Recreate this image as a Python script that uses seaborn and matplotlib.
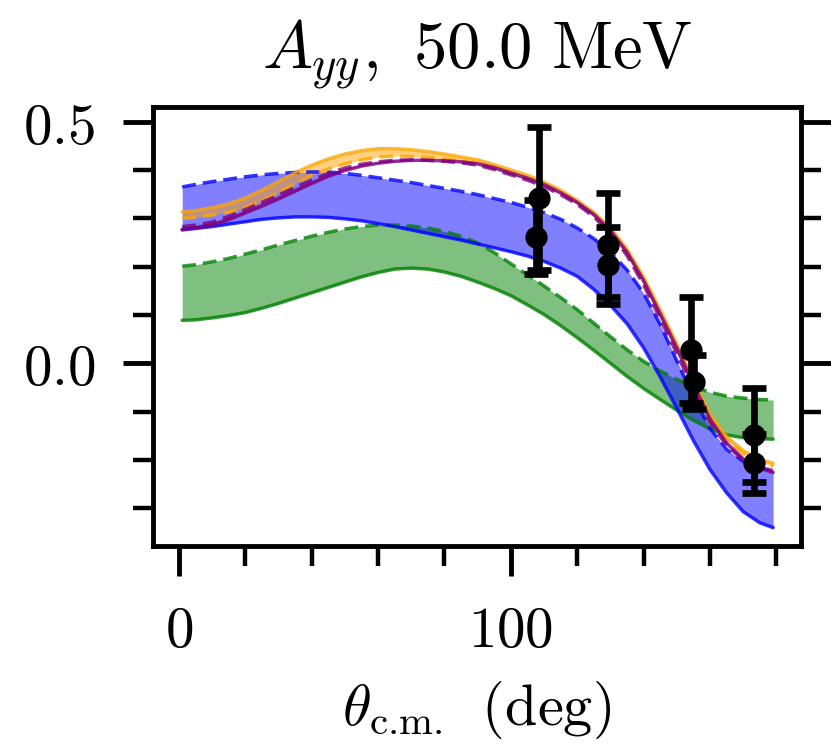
import matplotlib
matplotlib.use("Agg")
import matplotlib.pyplot as plt
import seaborn as sns
from matplotlib.ticker import MultipleLocator, FuncFormatter

# Scattering angle grid (deg) on which the model curves are tabulated
theta = [1, 5, 10, 15, 20, 25, 30, 35, 40, 45, 50, 55, 60, 65, 70, 75, 80,
         85, 90, 95, 100, 105, 110, 115, 120, 125, 130, 135, 140, 145, 150,
         155, 160, 165, 170, 175, 179]

# Green band: solid lower edge, dashed upper edge
green_solid = [0.089, 0.090, 0.094, 0.099, 0.105, 0.114, 0.124, 0.135, 0.146,
               0.157, 0.168, 0.179, 0.188, 0.195, 0.197, 0.195, 0.189, 0.180,
               0.168, 0.155, 0.140, 0.121, 0.101, 0.078, 0.053, 0.027, 0.000,
               -0.027, -0.052, -0.075, -0.097, -0.118, -0.136, -0.148, -0.154,
               -0.156, -0.157]
green_dashed = [0.201, 0.204, 0.210, 0.217, 0.226, 0.235, 0.245, 0.254, 0.263,
                0.271, 0.278, 0.283, 0.286, 0.286, 0.284, 0.280, 0.273, 0.263,
                0.249, 0.229, 0.206, 0.183, 0.160, 0.136, 0.111, 0.083, 0.055,
                0.028, 0.004, -0.016, -0.033, -0.048, -0.060, -0.068, -0.072,
                -0.075, -0.076]

# Blue band
blue_solid = [0.276, 0.279, 0.283, 0.288, 0.293, 0.298, 0.301, 0.303, 0.303,
              0.302, 0.299, 0.295, 0.289, 0.283, 0.276, 0.269, 0.262, 0.255,
              0.247, 0.239, 0.231, 0.222, 0.211, 0.197, 0.180, 0.153, 0.120,
              0.082, 0.032, -0.028, -0.093, -0.160, -0.220, -0.268, -0.307,
              -0.330, -0.340]
blue_dashed = [0.365, 0.370, 0.376, 0.381, 0.386, 0.390, 0.393, 0.395, 0.396,
               0.396, 0.393, 0.389, 0.384, 0.379, 0.374, 0.368, 0.362, 0.356,
               0.349, 0.341, 0.333, 0.323, 0.312, 0.298, 0.280, 0.258, 0.230,
               0.193, 0.145, 0.080, 0.005, -0.070, -0.135, -0.178, -0.203,
               -0.216, -0.222]

# Orange band
orange_solid = [0.313, 0.316, 0.322, 0.330, 0.342, 0.358, 0.376, 0.394, 0.410,
                0.423, 0.433, 0.440, 0.444, 0.444, 0.442, 0.438, 0.433, 0.427,
                0.421, 0.411, 0.400, 0.389, 0.375, 0.358, 0.337, 0.312, 0.280,
                0.236, 0.178, 0.110, 0.040, -0.035, -0.105, -0.152, -0.181,
                -0.199, -0.207]
orange_dashed = [0.300, 0.302, 0.307, 0.313, 0.322, 0.336, 0.353, 0.372, 0.389,
                 0.402, 0.413, 0.421, 0.427, 0.429, 0.428, 0.426, 0.423, 0.418,
                 0.413, 0.405, 0.395, 0.384, 0.371, 0.354, 0.332, 0.306, 0.273,
                 0.228, 0.169, 0.100, 0.030, -0.045, -0.113, -0.159, -0.187,
                 -0.205, -0.213]

# Purple band
purple_solid = [0.277, 0.280, 0.286, 0.297, 0.311, 0.325, 0.340, 0.356, 0.372,
                0.387, 0.399, 0.408, 0.414, 0.418, 0.420, 0.420, 0.419, 0.417,
                0.413, 0.405, 0.394, 0.383, 0.370, 0.353, 0.333, 0.308, 0.275,
                0.230, 0.171, 0.102, 0.032, -0.043, -0.115, -0.165, -0.198,
                -0.217, -0.226]
purple_dashed = [0.283, 0.286, 0.292, 0.304, 0.318, 0.333, 0.348, 0.364, 0.379,
                 0.393, 0.404, 0.412, 0.417, 0.420, 0.421, 0.420, 0.418, 0.415,
                 0.410, 0.401, 0.390, 0.379, 0.366, 0.349, 0.329, 0.303, 0.269,
                 0.223, 0.162, 0.092, 0.020, -0.055, -0.123, -0.170, -0.200,
                 -0.216, -0.222]

# Measured A_yy with uncertainties
exp_theta = [108.6, 107.6, 129.4, 129.4, 154.4, 155.3, 173.3, 173.3]
exp_ayy = [0.342, 0.261, 0.245, 0.203, 0.027, -0.039, -0.149, -0.207]
exp_err = [0.148, 0.077, 0.108, 0.080, 0.110, 0.056, 0.097, 0.061]

sns.set_style("ticks")
plt.rcParams["mathtext.fontset"] = "cm"
plt.rcParams["font.family"] = ["DejaVu Serif"]
for key in ("text.color", "axes.labelcolor", "xtick.color", "ytick.color",
            "axes.edgecolor"):
    plt.rcParams[key] = "black"

fig = plt.figure(figsize=(8.31, 7.44), dpi=100)
ax = fig.add_axes([0.1841, 0.2668, 0.7798, 0.5898])

bands = [
    (green_solid, green_dashed, "green"),
    (blue_solid, blue_dashed, "blue"),
    (orange_solid, orange_dashed, "orange"),
    (purple_solid, purple_dashed, "purple"),
]
for solid, dashed, col in bands:
    ax.fill_between(theta, solid, dashed, color=col, alpha=0.5, lw=0)
    sns.lineplot(x=theta, y=solid, color=col, lw=2.5, alpha=0.8, ax=ax)
    sns.lineplot(x=theta, y=dashed, color=col, lw=2.5, alpha=0.8,
                 linestyle=(0, (4, 2)), ax=ax)

ax.errorbar(exp_theta, exp_ayy, yerr=exp_err, fmt="o", color="black",
            ms=15, elinewidth=4.8, capsize=8.6, capthick=4.8, zorder=5)

ax.set_xlim(-7.8, 187.4)
ax.set_ylim(-0.377, 0.531)
ax.xaxis.set_major_locator(MultipleLocator(100))
ax.xaxis.set_minor_locator(MultipleLocator(20))
ax.yaxis.set_major_locator(MultipleLocator(0.5))
ax.yaxis.set_minor_locator(MultipleLocator(0.1))
ax.xaxis.set_major_formatter(FuncFormatter(lambda v, p: f"${v:.0f}$"))
ax.yaxis.set_major_formatter(FuncFormatter(lambda v, p: f"${v:.1f}$"))

ax.tick_params(which="major", direction="out", length=21.6, width=3.5,
               pad=20, labelsize=41, color="black", labelcolor="black")
ax.tick_params(which="minor", direction="out", length=14.4, width=3.2,
               color="black")
ax.tick_params(axis="y", which="both", left=True, right=True, labelright=False)
ax.tick_params(axis="x", which="both", top=False, bottom=True)
for sp in ax.spines.values():
    sp.set_linewidth(3.5)
    sp.set_color("black")

ax.set_title(r"$A_{yy},$ $50.0\ \mathrm{MeV}$", fontsize=48, pad=28,
             color="black")
ax.set_xlabel(r"$\theta_{\text{c.m.}}\ \ (\mathrm{deg})$", fontsize=42,
              labelpad=14, color="black")
ax.set_ylabel("")

fig.savefig("out.png", dpi=100, facecolor="white")
